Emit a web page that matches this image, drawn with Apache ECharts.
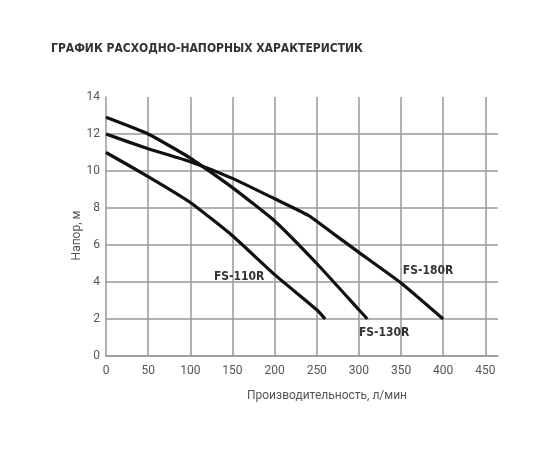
<!DOCTYPE html>
<html>
<head>
<meta charset="utf-8">
<script src="https://cdn.jsdelivr.net/npm/echarts@6/dist/echarts.min.js"></script>
<style>
  html, body { margin: 0; padding: 0; background: #fff; }
  #chart { width: 550px; height: 450px; }
</style>
</head>
<body>
<div id="chart"></div>
<script>
// данные кривых (расход, л/мин ; напор, м)
var fs110 = [[0, 11], [50, 9.7], [100, 8.3], [150, 6.5], [200, 4.4], [250, 2.5], [260, 2]];
var fs130 = [[0, 12.9], [50, 12], [100, 10.7], [150, 9.1], [200, 7.3], [250, 5.0], [300, 2.5], [310, 2]];
var fs180 = [[0, 12], [50, 11.2], [100, 10.5], [150, 9.6], [200, 8.5], [240, 7.6], [270, 6.6], [300, 5.6], [350, 3.95], [400, 2]];
var names = ['FS-110R', 'FS-130R', 'FS-180R'];
var nameAt = [[158, 4.3], [330, 1.25], [382, 4.6]];

var chart = echarts.init(document.getElementById('chart'));

function curve(i, data) {
  return {
    name: names[i],
    type: 'line',
    data: data,
    smooth: 0.15,
    symbol: 'none',
    lineStyle: { color: '#111', width: 3.2 },
    markPoint: {
      symbol: 'circle',
      symbolSize: 1,
      itemStyle: { color: 'rgba(0,0,0,0)' },
      data: [{ coord: nameAt[i], value: names[i] }],
      label: {
        show: true,
        position: 'inside',
        formatter: names[i],
        color: '#333',
        fontSize: 12,
        fontWeight: 'bold',
        fontFamily: 'DejaVu Sans Condensed'
      }
    }
  };
}

chart.setOption({
  animation: false,
  title: {
    text: 'ГРАФИК РАСХОДНО-НАПОРНЫХ ХАРАКТЕРИСТИК',
    left: 46,
    top: 38,
    textStyle: { fontSize: 12, fontWeight: 'bold', color: '#333', fontFamily: 'DejaVu Sans Condensed' }
  },
  grid: { left: 106, right: 52, top: 97, bottom: 94 },
  xAxis: {
    type: 'value',
    min: 0,
    max: 465,
    interval: 50,
    name: 'Производительность, л/мин',
    nameLocation: 'middle',
    nameGap: 34,
    nameTextStyle: { color: '#555', fontSize: 12, fontFamily: 'Roboto', padding: [0, 0, 0, 50] },
    axisLine: { lineStyle: { color: '#999', width: 1.5 } },
    axisTick: { show: false },
    axisLabel: { color: '#555', fontSize: 12, fontFamily: 'Roboto', margin: 9, showMaxLabel: false },
    splitLine: { show: true, showMinLine: false, showMaxLine: false, lineStyle: { color: '#999', width: 1.5 } }
  },
  yAxis: {
    type: 'value',
    min: 0,
    max: 14,
    interval: 2,
    name: 'Напор, м',
    nameLocation: 'middle',
    nameGap: 23,
    nameMoveOverlap: false,
    nameTextStyle: { color: '#555', fontSize: 12, fontFamily: 'Roboto', padding: [0, 18, 0, 0] },
    axisLine: { show: true, lineStyle: { color: '#999', width: 1.5 } },
    axisTick: { show: false },
    axisLabel: { color: '#555', fontSize: 12, fontFamily: 'Roboto', margin: 6 },
    splitLine: { show: true, showMaxLine: false, lineStyle: { color: '#999', width: 1.5 } }
  },
  series: [curve(0, fs110), curve(1, fs130), curve(2, fs180)]
});
</script>
</body>
</html>
